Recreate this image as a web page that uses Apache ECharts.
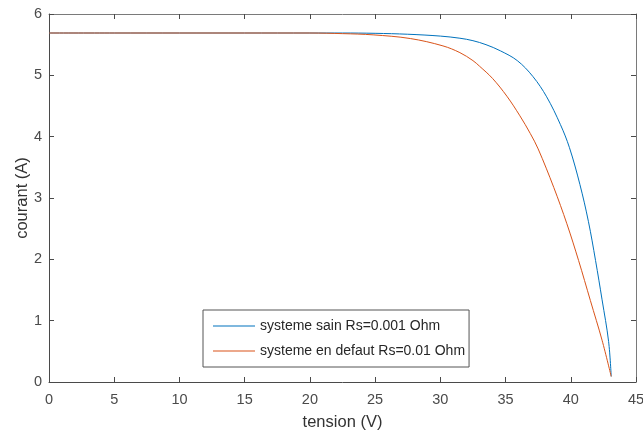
<!DOCTYPE html>
<html>
<head>
<meta charset="utf-8">
<script src="https://cdn.jsdelivr.net/npm/echarts@6/dist/echarts.min.js"></script>
<style>html,body{margin:0;padding:0;background:#fff}#c{width:643px;height:432px}</style>
</head>
<body>
<div id="c"></div>
<script>
// Data
const vSain = [0, 5, 10, 15, 20, 22.5, 25, 27.5, 30, 31.5, 32.5, 33.5, 34.6, 35.9, 37.1, 38.15, 39.2, 39.9, 40.7, 41.35, 41.9, 42.4, 42.9, 43.1];
const iSain = [5.69, 5.69, 5.69, 5.69, 5.69, 5.69, 5.685, 5.67, 5.64, 5.605, 5.565, 5.50, 5.40, 5.24, 4.98, 4.65, 4.20, 3.82, 3.22, 2.62, 1.98, 1.34, 0.66, 0.09];
const vDefaut = [0, 5, 10, 15, 20, 22.5, 24.85, 27.7, 30.2, 31.5, 32.5, 33.0, 34.0, 35.1, 36.1, 36.9, 37.5, 38.7, 39.7, 40.6, 41.5, 42.4, 43.1];
const iDefaut = [5.69, 5.69, 5.69, 5.69, 5.69, 5.68, 5.66, 5.60, 5.48, 5.37, 5.24, 5.15, 4.95, 4.66, 4.34, 4.05, 3.80, 3.17, 2.58, 1.98, 1.33, 0.68, 0.09];
const seriesNames = ['systeme sain Rs=0.001 Ohm', 'systeme en defaut Rs=0.01 Ohm'];
const xTicks = [0, 45, 5];
const yTicks = [0, 6, 1];

const pairs = (xs, ys) => xs.map((x, i) => [x, ys[i]]);
const font = 'Liberation Sans, Arial, Helvetica, sans-serif';
const chart = echarts.init(document.getElementById('c'), null, {renderer: 'canvas'});
const axisCommon = {
  type: 'value',
  splitLine: {show: false},
  axisLine: {show: true, onZero: false, lineStyle: {color: '#4a4a4a', width: 1}},
  axisTick: {show: true, inside: true, length: 5, lineStyle: {color: '#4a4a4a'}},
};
const lineIcon = 'path://M0,0 L42,0 L42,1.2 L0,1.2 Z';
chart.setOption({
  animation: false,
  backgroundColor: '#ffffff',
  grid: {left: 49, right: 7, top: 14, bottom: 50, containLabel: false, outerBoundsMode: 'none'},
  xAxis: [
    Object.assign({}, axisCommon, {
      min: xTicks[0], max: xTicks[1], interval: xTicks[2], position: 'bottom',
      name: 'tension (V)', nameLocation: 'middle', nameGap: 32, nameMoveOverlap: false,
      nameTextStyle: {fontFamily: font, fontSize: 16.5, color: '#333'},
      axisLabel: {fontFamily: font, fontSize: 14.5, color: '#4a4a4a', margin: 10}
    }),
    Object.assign({}, axisCommon, {
      min: xTicks[0], max: xTicks[1], interval: xTicks[2], position: 'top',
      axisLine: {show: true, onZero: false, lineStyle: {color: '#7a7a7a', width: 1}},
      axisLabel: {show: false}
    })
  ],
  yAxis: [
    Object.assign({}, axisCommon, {
      min: yTicks[0], max: yTicks[1], interval: yTicks[2], position: 'left',
      name: 'courant (A)', nameLocation: 'middle', nameGap: 18, nameRotate: 90, nameMoveOverlap: false,
      nameTextStyle: {fontFamily: font, fontSize: 16.5, color: '#333'},
      axisLabel: {fontFamily: font, fontSize: 14.5, color: '#4a4a4a', margin: 7}
    }),
    Object.assign({}, axisCommon, {
      min: yTicks[0], max: yTicks[1], interval: yTicks[2], position: 'right',
      axisLine: {show: true, onZero: false, lineStyle: {color: '#7a7a7a', width: 1}},
      axisLabel: {show: false}
    })
  ],
  legend: {
    orient: 'vertical', left: 203, top: 310,
    padding: [9, 4, 9, 10], itemGap: 11, itemWidth: 42, itemHeight: 14,
    borderColor: '#555', borderWidth: 1, backgroundColor: '#fff',
    textStyle: {fontFamily: font, fontSize: 14, lineHeight: 14, color: '#262626'},
    data: seriesNames.map(n => ({name: n, icon: lineIcon}))
  },
  series: [
    {name: seriesNames[0], type: 'line', data: pairs(vSain, iSain), smooth: 0.35, symbol: 'none',
     lineStyle: {color: '#0072BD', width: 1}, itemStyle: {color: '#0072BD'}, z: 2},
    {name: seriesNames[1], type: 'line', data: pairs(vDefaut, iDefaut), smooth: 0.35, symbol: 'none',
     lineStyle: {color: '#D95319', width: 1}, itemStyle: {color: '#D95319'}, z: 3}
  ]
});
</script>
</body>
</html>
